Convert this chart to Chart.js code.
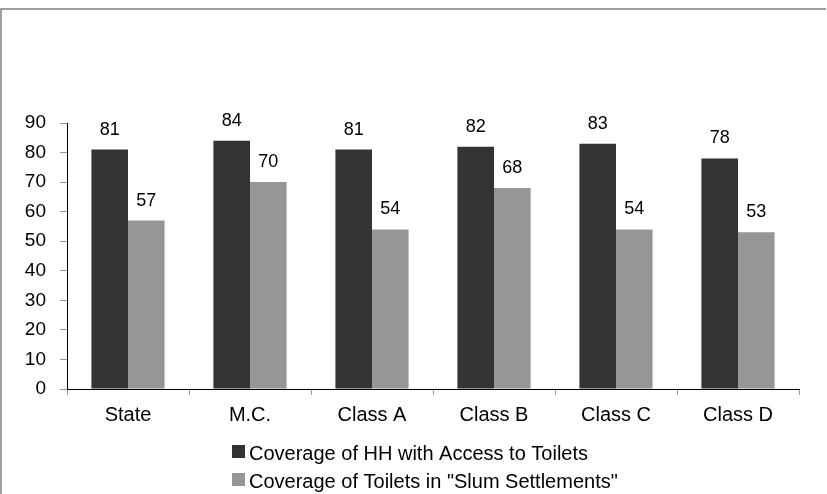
<!DOCTYPE html>
<html>
<head>
<meta charset="utf-8">
<script src="https://cdn.jsdelivr.net/npm/chart.js@4/dist/chart.umd.min.js"></script>
<style>
  html, body { margin: 0; padding: 0; background: #fff; }
  #wrap { position: relative; width: 827px; height: 494px; }
</style>
</head>
<body>
<div id="wrap"><canvas id="toiletChart" width="827" height="494"></canvas></div>
<script>
// categories and series
const categories = ['State', 'M.C.', 'Class A', 'Class B', 'Class C', 'Class D'];
const hhCoverage = [81, 84, 81, 82, 83, 78];
const slumCoverage = [57, 70, 54, 68, 54, 53];
const seriesNames = ['Coverage of HH with Access to Toilets', 'Coverage of Toilets in "Slum Settlements"'];
const seriesColors = ['#333333', '#969696'];

const FONT = 'Arial, "Liberation Sans", sans-serif';

// frame, value labels and the stacked legend
const extras = {
  id: 'extras',
  beforeDraw(chart) {
    const c = chart.ctx;
    c.save();
    c.strokeStyle = '#808080';
    c.lineWidth = 1.5;
    c.beginPath();
    c.moveTo(1, 500);
    c.lineTo(1, 9);
    c.lineTo(826, 9);
    c.stroke();
    c.restore();
  },
  afterDatasetsDraw(chart) {
    const c = chart.ctx;
    c.save();
    c.font = '18px ' + FONT;
    c.fillStyle = '#000';
    c.textAlign = 'center';
    c.textBaseline = 'alphabetic';
    chart.data.datasets.forEach((ds, i) => {
      chart.getDatasetMeta(i).data.forEach((bar, j) => {
        c.fillText(ds.data[j], bar.x, bar.y - 15);
      });
    });
    // legend, one entry per line
    c.font = '20px ' + FONT;
    c.textAlign = 'left';
    chart.data.datasets.forEach((ds, i) => {
      const y = 445 + i * 28;
      c.fillStyle = ds.backgroundColor;
      c.fillRect(232, y, 13, 13);
      c.fillStyle = '#000';
      c.fillText(ds.label, 249, y + 14.5);
    });
    c.restore();
  }
};

new Chart(document.getElementById('toiletChart').getContext('2d'), {
  type: 'bar',
  data: {
    labels: categories,
    datasets: [
      { label: seriesNames[0], data: hhCoverage, backgroundColor: seriesColors[0] },
      { label: seriesNames[1], data: slumCoverage, backgroundColor: seriesColors[1] }
    ]
  },
  options: {
    responsive: false,
    animation: false,
    layout: { padding: { left: 0, top: 123, right: 28, bottom: 65 } },
    datasets: { bar: { categoryPercentage: 0.6, barPercentage: 1 } },
    plugins: {
      legend: { display: false },
      tooltip: { enabled: false }
    },
    scales: {
      x: {
        grid: { drawOnChartArea: false, color: '#999', tickLength: 6, offset: true },
        border: { color: '#000', width: 1 },
        ticks: { color: '#000', font: { size: 20, family: FONT }, padding: 8, maxRotation: 0 },
        afterFit(s) { s.height = 40; }
      },
      y: {
        min: 0,
        max: 90,
        ticks: { stepSize: 10, color: '#000', font: { size: 19, family: FONT }, padding: 14 },
        grid: { drawOnChartArea: false, color: '#999', tickLength: 7 },
        border: { color: '#000', width: 1 },
        afterFit(s) { s.width = 67; }
      }
    }
  },
  plugins: [extras]
});
</script>
</body>
</html>
